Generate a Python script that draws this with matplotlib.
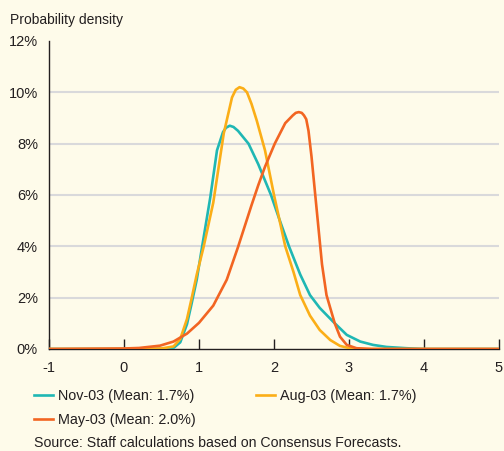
import matplotlib
matplotlib.use('Agg')
import matplotlib.pyplot as plt
from matplotlib.ticker import FuncFormatter

plt.rcParams['font.family'] = ['Liberation Sans', 'DejaVu Sans']
plt.rcParams['axes.unicode_minus'] = False

# (x in %, density in %)
nov_x = [-1.0, 0.0, 0.5, 0.66, 0.75, 0.84, 0.9, 0.97, 1.04, 1.15, 1.24, 1.32, 1.36,
         1.41, 1.46, 1.52, 1.66, 1.79, 1.96, 2.06, 2.2, 2.35, 2.48, 2.61, 2.79,
         2.97, 3.15, 3.32, 3.5, 3.77, 4.0, 5.0]
nov_y = [0.0, 0.0, 0.01, 0.04, 0.26, 0.97, 1.75, 2.7, 3.96, 5.9, 7.74, 8.45, 8.62,
         8.7, 8.65, 8.5, 8.0, 7.2, 6.0, 5.15, 4.0, 2.9, 2.1, 1.6, 1.06,
         0.55, 0.29, 0.16, 0.08, 0.03, 0.0, 0.0]

aug_x = [-1.0, 0.0, 0.5, 0.66, 0.75, 0.84, 0.9, 0.97, 1.06, 1.19, 1.33, 1.44, 1.49,
         1.54, 1.59, 1.64, 1.7, 1.77, 1.88, 2.0, 2.15, 2.26, 2.35, 2.48, 2.61,
         2.75, 2.88, 3.01, 3.2, 5.0]
aug_y = [0.0, 0.0, 0.02, 0.1, 0.39, 1.17, 1.95, 2.9, 3.96, 5.7, 8.4, 9.8, 10.1,
         10.2, 10.15, 10.0, 9.55, 8.9, 7.74, 6.0, 4.0, 3.0, 2.1, 1.3, 0.74,
         0.35, 0.12, 0.03, 0.0, 0.0]

may_x = [-1.0, 0.0, 0.2, 0.48, 0.66, 0.84, 1.0, 1.19, 1.37, 1.52, 1.7, 1.79, 1.88,
         2.01, 2.15, 2.25, 2.29, 2.33, 2.37, 2.4, 2.43, 2.46, 2.5, 2.55, 2.6,
         2.64, 2.7, 2.75, 2.81, 2.88, 2.97, 3.1, 3.3, 5.0]
may_y = [0.0, 0.02, 0.04, 0.13, 0.29, 0.6, 1.02, 1.69, 2.7, 3.97, 5.6, 6.38, 7.1,
         8.0, 8.8, 9.1, 9.2, 9.23, 9.2, 9.1, 8.95, 8.5, 7.5, 6.0, 4.5,
         3.3, 2.1, 1.6, 1.0, 0.48, 0.16, 0.03, 0.0, 0.0]

labels = ['Nov-03 (Mean: 1.7%)', 'Aug-03 (Mean: 1.7%)', 'May-03 (Mean: 2.0%)']
colors = ['#1FB7B4', '#FBAE17', '#F26522']

x_ticks = [-1, 0, 1, 2, 3, 4, 5]
y_ticks = [0, 2, 4, 6, 8, 10, 12]

bg = '#FEFBEA'
ink = '#231F20'
fig = plt.figure(figsize=(5.04, 4.51), dpi=100, facecolor=bg)
ax = fig.add_axes([49 / 504, 102 / 451, 450 / 504, 308 / 451], facecolor=bg)

for yv in y_ticks[1:-1]:
    ax.axhline(yv, color='#D9D9DB', lw=1.5, zorder=1)

l_nov, = ax.plot(nov_x, nov_y, color=colors[0], lw=1.9, zorder=3, label=labels[0])
l_aug, = ax.plot(aug_x, aug_y, color=colors[1], lw=1.9, zorder=3, label=labels[1])
l_may, = ax.plot(may_x, may_y, color=colors[2], lw=1.9, zorder=4, label=labels[2])

ax.set_xlim(-1, 5)
ax.set_ylim(0, 12)
ax.set_xticks(x_ticks)
ax.set_yticks(y_ticks)
ax.yaxis.set_major_formatter(FuncFormatter(lambda v, p: f'{v:.0f}%'))

for s in ['top', 'right']:
    ax.spines[s].set_visible(False)
for s in ['left', 'bottom']:
    ax.spines[s].set_color(ink)
    ax.spines[s].set_linewidth(1.0)
    ax.spines[s].set_zorder(2)

ax.tick_params(axis='x', direction='in', length=7, width=1, color=ink,
               labelsize=10.5, pad=9, labelcolor=ink)
ax.tick_params(axis='y', length=0, labelsize=10.5, pad=8, labelcolor=ink)

fig.text(10 / 504, 1 - 20 / 451, 'Probability density', fontsize=10,
         color=ink, va='center', ha='left')

fig.legend(handles=[l_nov, l_may, l_aug], loc='upper left',
           bbox_to_anchor=(28 / 504, 1 - 383 / 451), ncol=2, frameon=False,
           fontsize=10.4, handlelength=1.3, handletextpad=0.35,
           columnspacing=4.2, labelspacing=0.7, borderaxespad=0,
           labelcolor=ink)

fig.text(34 / 504, 1 - 443 / 451, 'Source: Staff calculations based on Consensus Forecasts.',
         fontsize=10.2, color=ink, va='center', ha='left')

plt.savefig('out.png', dpi=100, facecolor=bg)
